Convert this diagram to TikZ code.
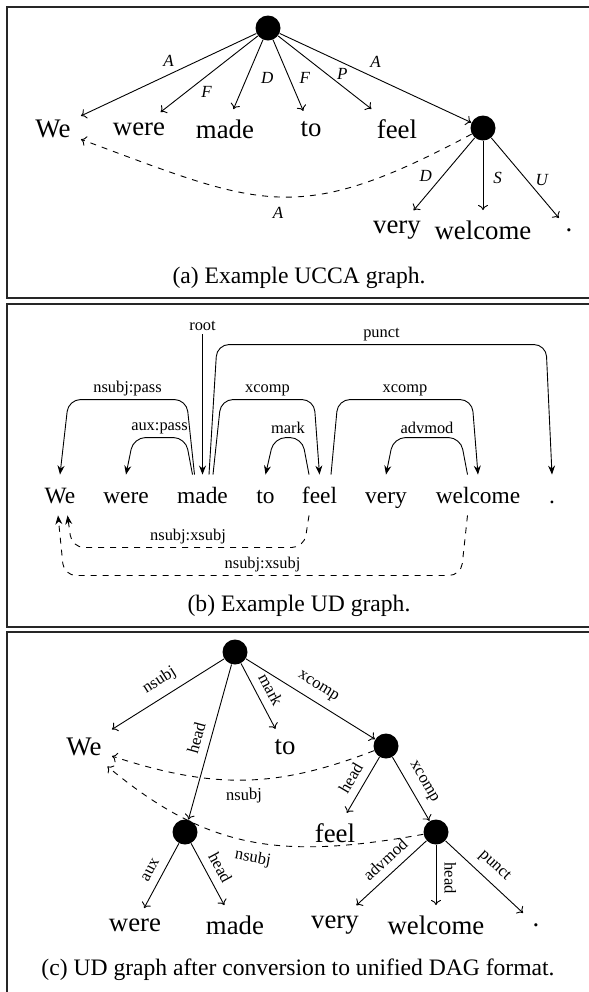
\documentclass[tikz,border=0pt]{standalone}
\usepackage{fontspec}
\setmainfont{Liberation Serif}
\usetikzlibrary{arrows.meta}

\begin{document}
\begin{tikzpicture}[
  x=0.5pt,
  y=0.5pt,
  line width=0.45pt,
  frame/.style={draw=black!85, line width=0.9pt},
  capt/.style={anchor=base, font=\fontsize{11.8}{14}\selectfont},
  concept/.style={circle, fill=black, inner sep=0pt, minimum size=12.5pt},
  word/.style={inner sep=5pt, font=\fontsize{13.4}{16}\selectfont},
  ucca/.style={-{To[length=2.6pt,width=5pt]}},
  cat/.style={inner sep=2pt, font=\fontsize{8.5}{10}\selectfont\itshape},
  udword/.style={
    anchor=base,
    inner xsep=0pt,
    inner ysep=6pt,
    text height=8pt,
    text depth=0pt,
    font=\fontsize{11.7}{14}\selectfont
  },
  dep/.style={-{Stealth[length=4.5pt,width=3.5pt]}, rounded corners=6pt},
  xdep/.style={dep, dashed},
  rel/.style={inner sep=1.5pt, font=\fontsize{8.2}{10}\selectfont},
  dagrel/.style={sloped, above, inner sep=4pt, font=\fontsize{8.3}{10}\selectfont}
]

\useasboundingbox (0,0) rectangle (589,-992);

% (a) UCCA
\draw[frame] (7,-7) rectangle (592,-298);

\node[concept] (aRoot) at (268,-28) {};
\node[concept] (aMid) at (483,-128) {};
\node[word] (aWe) at (53,-129) {We};
\node[word] (aWere) at (139,-129) {were};
\node[word] (aMade) at (225,-129) {made};
\node[word] (aTo) at (311,-129) {to};
\node[word] (aFeel) at (397,-129) {feel};
\node[word] (aVery) at (397,-230) {very};
\node[word] (aWelcome) at (483,-230) {welcome};
\node[word] (aDot) at (569,-230) {.};

\draw[ucca] (aRoot) -- node[cat,pos=.5,above=2pt] {A} (aWe);
\draw[ucca] (aRoot) -- node[cat,pos=.73,right=5pt] {F} (aWere);
\draw[ucca] (aRoot) -- node[cat,pos=.55,right=5pt] {D} (aMade);
\draw[ucca] (aRoot) -- node[cat,pos=.53,right=3pt] {F} (aTo);
\draw[ucca] (aRoot) -- node[cat,pos=.52,right=3pt] {P} (aFeel);
\draw[ucca] (aRoot) -- node[cat,pos=.5,above=3pt] {A} (aMid);
\draw[ucca] (aMid) -- node[cat,pos=.53,left=3pt] {D} (aVery);
\draw[ucca] (aMid) -- node[cat,pos=.54,right=3pt] {S} (aWelcome);
\draw[ucca] (aMid) -- node[cat,pos=.53,right=2pt] {U} (aDot);
\draw[ucca,dashed] (aMid) .. controls (296,-228) and (261,-206) .. node[cat,pos=.5,below=3pt] {A} (aWe);

\node[capt] (aCap) at (299,-283) {(a) Example UCCA graph.};

% (b) UD
\draw[frame] (7,-304) rectangle (592,-627);

\node[udword] (bWe) at (60,-503) {We};
\node[udword] (bWere) at (126,-503) {were};
\node[udword] (bMade) at (202.5,-503) {made};
\node[udword] (bTo) at (265.5,-503) {to};
\node[udword] (bFeel) at (319.5,-503) {feel};
\node[udword] (bVery) at (386,-503) {very};
\node[udword] (bWelcome) at (478,-503) {welcome};
\node[udword] (bDot) at (552,-503) {.};
\node[rel] (bRoot) at (202.5,-326) {root};

\draw[dep] (bRoot) -- (bMade.north);
\draw[dep] ([xshift=-4pt]bMade.north) -- ++(-8,75) -- node[rel,above] {nsubj:pass} ++(-118,0) -- (bWe.north);
\draw[dep] ([xshift=-5pt]bMade.north) -- ++(-7,37) -- node[rel,above] {aux:pass} ++(-52,0) -- (bWere.north);
\draw[dep] ([xshift=3.25pt]bMade.north) -- ++(8,130) -- node[rel,above] {punct} ++(329,0) -- (bDot.north);
\draw[dep] ([xshift=5.25pt]bMade.north) -- ++(8,75) -- node[rel,above] {xcomp} ++(93,0) -- (bFeel.north);
\draw[dep] ([xshift=-5.25pt]bFeel.north) -- ++(-7,37) -- node[rel,above] {mark} ++(-28,0) -- (bTo.north);
\draw[dep] ([xshift=5.75pt]bFeel.north) -- ++(7,75) -- node[rel,above] {xcomp} ++(134,0) -- (bWelcome.north);
\draw[dep] ([xshift=-5.25pt]bWelcome.north) -- ++(-7,37) -- node[rel,above] {advmod} ++(-67,0) -- (bVery.north);
\draw[xdep] ([xshift=-5.25pt]bFeel.south) -- ++(-5,-32) -- node[rel,above] {nsubj:xsubj} ++(-232,0) -- ([xshift=3.75pt]bWe.south);
\draw[xdep] ([xshift=-5.25pt]bWelcome.south) -- ++(-6.5,-60) -- node[rel,above] {nsubj:xsubj} ++(-397,0) -- ([xshift=-1pt]bWe.south);

\node[capt] (bCap) at (299,-611) {(b) Example UD graph.};

% (c) unified DAG
\draw[frame] (7,-632) rectangle (592,-1000);

\node[concept] (cRoot) at (235,-652) {};
\node[concept] (cComp) at (386,-746) {};
\node[concept] (cPass) at (185,-832) {};
\node[concept] (cPred) at (436,-832) {};
\node[word] (cWe) at (84,-747) {We};
\node[word] (cTo) at (285,-747) {to};
\node[word] (cFeel) at (335,-833) {feel};
\node[word] (cWere) at (135,-925) {were};
\node[word] (cMade) at (235,-925) {made};
\node[word] (cVery) at (335,-925) {very};
\node[word] (cWelcome) at (436,-925) {welcome};
\node[word] (cDot) at (536,-925) {.};

\draw[ucca] (cRoot) -- node[dagrel] {nsubj} (cWe);
\draw[ucca] (cRoot) -- node[dagrel] {head} (cPass);
\draw[ucca] (cRoot) -- node[dagrel] {mark} (cTo);
\draw[ucca] (cRoot) -- node[dagrel] {xcomp} (cComp);
\draw[ucca] (cComp) -- node[dagrel] {head} (cFeel);
\draw[ucca] (cComp) -- node[dagrel] {xcomp} (cPred);
\draw[ucca] (cPass) -- node[dagrel] {aux} (cWere);
\draw[ucca] (cPass) -- node[dagrel] {head} (cMade);
\draw[ucca] (cPred) -- node[dagrel,pos=.45] {advmod} (cVery);
\draw[ucca] (cPred) -- node[dagrel,pos=.55] {head} (cWelcome);
\draw[ucca] (cPred) -- node[dagrel] {punct} (cDot);
\draw[ucca,dashed] (cComp) .. controls (275,-789) and (213,-789) .. node[dagrel,below] {nsubj} (cWe);
\draw[ucca,dashed] (cPred) .. controls (281,-860) and (208,-850) .. node[dagrel,below,pos=.48] {nsubj} (cWe);

\node[capt] (cCap) at (298,-975) {(c) UD graph after conversion to unified DAG format.};

\end{tikzpicture}
\end{document}
